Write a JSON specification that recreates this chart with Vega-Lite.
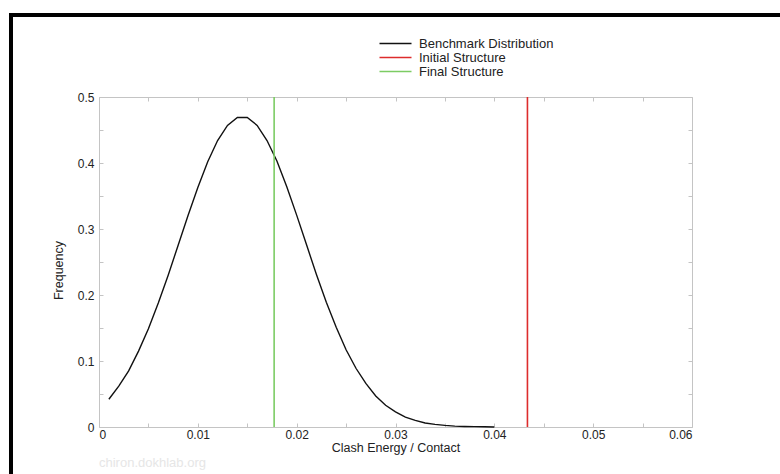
{
  "$schema": "https://vega.github.io/schema/vega-lite/v6.json",
  "width": 593,
  "height": 330,
  "autosize": {"type": "none"},
  "padding": {"left": 99, "top": 97, "right": 88, "bottom": 47},
  "background": "white",
  "config": {
    "font": "Liberation Sans",
    "view": {"stroke": "#c4c4c4", "strokeWidth": 1},
    "axis": {
      "domain": false,
      "grid": false,
      "tickColor": "#c4c4c4",
      "tickSize": -4,
      "labelColor": "#222222",
      "labelFontSize": 12,
      "labelFont": "Liberation Sans",
      "titleFont": "Liberation Sans",
      "titleFontWeight": "normal",
      "titleFontSize": 12.5,
      "titleColor": "#222222"
    }
  },
  "title": {
    "text": "chiron.dokhlab.org",
    "orient": "bottom",
    "anchor": "start",
    "frame": "group",
    "color": "#e6e6e6",
    "fontSize": 13,
    "fontWeight": "normal",
    "font": "Liberation Sans",
    "offset": -22
  },
  "datasets": {
    "curve": [
      {"x": 0.001, "y": 0.042},
      {"x": 0.002, "y": 0.062},
      {"x": 0.003, "y": 0.085},
      {"x": 0.004, "y": 0.115},
      {"x": 0.005, "y": 0.149},
      {"x": 0.006, "y": 0.188},
      {"x": 0.007, "y": 0.230},
      {"x": 0.008, "y": 0.275},
      {"x": 0.009, "y": 0.320},
      {"x": 0.010, "y": 0.363},
      {"x": 0.011, "y": 0.402},
      {"x": 0.012, "y": 0.434},
      {"x": 0.013, "y": 0.457},
      {"x": 0.014, "y": 0.469},
      {"x": 0.015, "y": 0.469},
      {"x": 0.016, "y": 0.457},
      {"x": 0.017, "y": 0.434},
      {"x": 0.018, "y": 0.403},
      {"x": 0.019, "y": 0.364},
      {"x": 0.020, "y": 0.321},
      {"x": 0.021, "y": 0.276},
      {"x": 0.022, "y": 0.231},
      {"x": 0.023, "y": 0.189},
      {"x": 0.024, "y": 0.151},
      {"x": 0.025, "y": 0.117},
      {"x": 0.026, "y": 0.089},
      {"x": 0.027, "y": 0.066},
      {"x": 0.028, "y": 0.047},
      {"x": 0.029, "y": 0.033},
      {"x": 0.030, "y": 0.023},
      {"x": 0.031, "y": 0.015},
      {"x": 0.032, "y": 0.010},
      {"x": 0.033, "y": 0.006},
      {"x": 0.034, "y": 0.004},
      {"x": 0.035, "y": 0.0024},
      {"x": 0.036, "y": 0.0014},
      {"x": 0.037, "y": 0.0008},
      {"x": 0.038, "y": 0.0005},
      {"x": 0.039, "y": 0.0003},
      {"x": 0.040, "y": 0.0001}
    ],
    "rules": [
      {"x": 0.04335, "series": "Initial Structure"},
      {"x": 0.01772, "series": "Final Structure"}
    ]
  },
  "layer": [
    {
      "data": {"name": "curve"},
      "mark": {"type": "line", "strokeWidth": 1.4},
      "encoding": {
        "x": {
          "field": "x",
          "type": "quantitative",
          "scale": {"domain": [0, 0.06], "nice": false, "zero": false},
          "axis": {
            "orient": "bottom",
            "values": [0, 0.005, 0.01, 0.015, 0.02, 0.025, 0.03, 0.035, 0.04, 0.045, 0.05, 0.055, 0.06],
            "labelExpr": "round(datum.value * 1000) % 10 == 0 ? format(datum.value, '~g') : ''",
            "labelPadding": 6,
            "title": "Clash Energy / Contact",
            "titlePadding": 1
          }
        },
        "y": {
          "field": "y",
          "type": "quantitative",
          "scale": {"domain": [0, 0.5], "nice": false, "zero": false},
          "axis": {
            "orient": "left",
            "values": [0, 0.05, 0.1, 0.15, 0.2, 0.25, 0.3, 0.35, 0.4, 0.45, 0.5],
            "labelExpr": "round(datum.value * 100) % 10 == 0 ? format(datum.value, '~g') : ''",
            "labelPadding": 9,
            "title": "Frequency",
            "titlePadding": 12,
            "titleY": 173
          }
        },
        "color": {
          "datum": "Benchmark Distribution",
          "type": "nominal",
          "title": null,
          "scale": {
            "domain": ["Benchmark Distribution", "Initial Structure", "Final Structure"],
            "range": ["#111111", "#dd2c2c", "#7ccc63"]
          },
          "legend": {
            "orient": "none",
            "legendX": 290,
            "legendY": -60,
            "title": null,
            "symbolType": "M-4,0H4",
            "symbolSize": 64,
            "symbolStrokeWidth": 1.4,
            "labelFontSize": 13,
            "labelFont": "Liberation Sans",
            "labelColor": "#222222",
            "labelOffset": 17,
            "rowPadding": 0,
            "padding": 0
          }
        }
      }
    },
    {
      "data": {"name": "rules"},
      "mark": {"type": "rule", "strokeWidth": 1.6},
      "encoding": {
        "x": {
          "field": "x",
          "type": "quantitative",
          "axis": {
            "orient": "top",
            "values": [0, 0.005, 0.01, 0.015, 0.02, 0.025, 0.03, 0.035, 0.04, 0.045, 0.05, 0.055, 0.06],
            "labels": false,
            "title": null
          }
        },
        "y": {
          "datum": 0,
          "type": "quantitative",
          "axis": {
            "orient": "right",
            "values": [0, 0.05, 0.1, 0.15, 0.2, 0.25, 0.3, 0.35, 0.4, 0.45, 0.5],
            "labels": false,
            "title": null
          }
        },
        "y2": {"datum": 0.5},
        "color": {"field": "series", "type": "nominal", "title": null}
      }
    },
    {
      "data": {"values": [{}]},
      "mark": {"type": "rect", "filled": false, "stroke": "#000000", "strokeWidth": 4},
      "encoding": {
        "x": {"datum": -0.008904, "type": "quantitative", "axis": null},
        "x2": {"datum": 0.0692},
        "y": {"datum": 0.6242, "type": "quantitative", "axis": null},
        "y2": {"datum": -0.07576}
      }
    }
  ],
  "resolve": {"axis": {"x": "independent", "y": "independent"}}
}
